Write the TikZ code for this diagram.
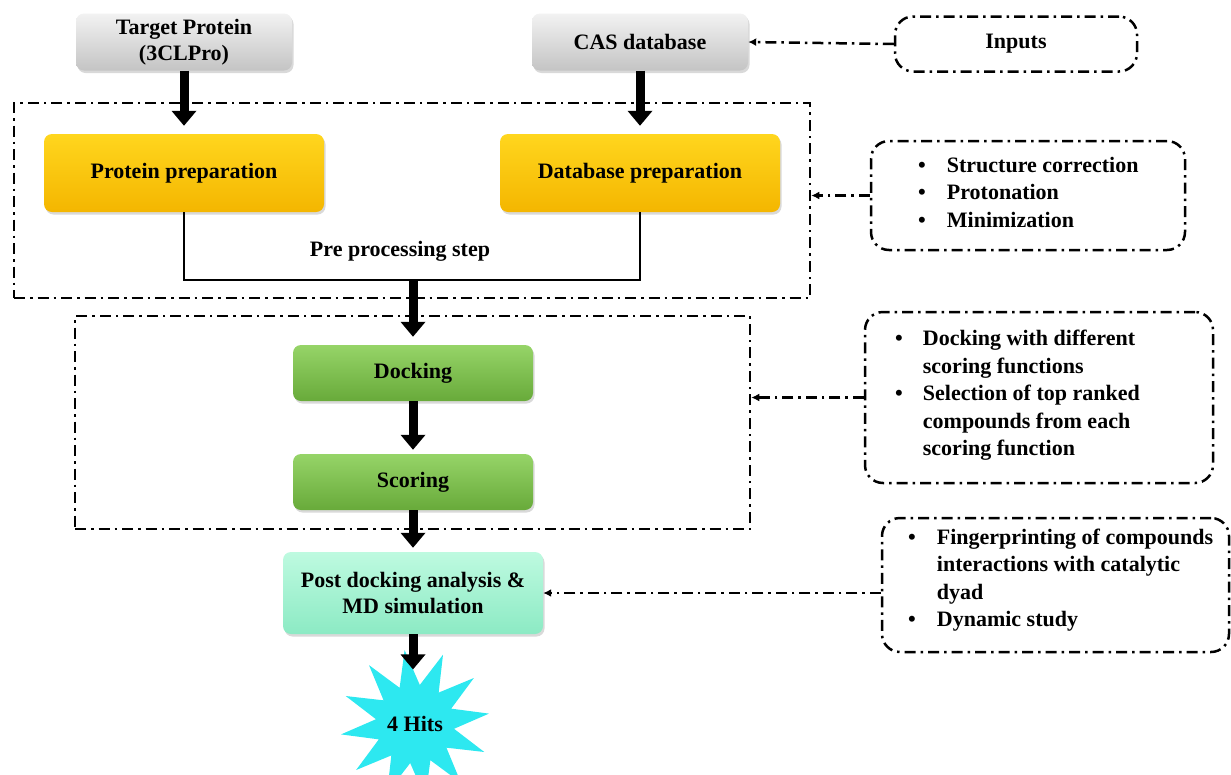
\documentclass[tikz,border=0pt]{standalone}
\usepackage{fontspec}
\setmainfont{Liberation Serif}
\usetikzlibrary{arrows.meta,shapes.geometric,shadows}

\definecolor{greytop}{RGB}{242,242,242}
\definecolor{greybot}{RGB}{196,196,196}
\definecolor{yellowtop}{RGB}{255,214,30}
\definecolor{yellowbot}{RGB}{244,182,0}
\definecolor{greentop}{RGB}{150,212,104}
\definecolor{greenbot}{RGB}{104,170,58}
\definecolor{minttop}{RGB}{190,250,224}
\definecolor{mintbot}{RGB}{140,234,196}
\definecolor{starcyan}{RGB}{45,232,240}

\tikzset{
  box/.style={rounded corners=8pt, align=center, font=\bfseries\fontsize{22}{26}\selectfont,
    drop shadow={opacity=.3, shadow xshift=1.5pt, shadow yshift=-2.5pt}},
  greybox/.style={box, top color=greytop, bottom color=greybot},
  yellowbox/.style={box, top color=yellowtop, bottom color=yellowbot},
  greenbox/.style={box, top color=greentop, bottom color=greenbot},
  mintbox/.style={box, top color=minttop, bottom color=mintbot},
  dashdot/.style={line width=2.5pt, dash pattern=on 11pt off 5pt on 2.5pt off 5pt},
  frame/.style={draw, dashdot},
  note/.style={draw, dashdot, rounded corners=18pt, font=\bfseries\fontsize{22}{26}\selectfont},
  listtext/.style={anchor=west, inner sep=0pt, font=\bfseries\fontsize{22}{27.5}\selectfont},
  bigarrow/.style={line width=9pt, -{Triangle[length=15pt,width=24pt]}},
  dasharrow/.style={dashdot, -{Latex[length=8pt,width=8pt]}},
}

\begin{document}
\begin{tikzpicture}[x=1pt,y=-1pt]
   \useasboundingbox (0,0) rectangle (1231,774);

   % inputs
   \node[greybox, minimum width=216, minimum height=57] (tp) at (184,42) {Target Protein\\(3CLPro)};
   \node[greybox, minimum width=216, minimum height=57] (cas) at (640,42) {CAS database};
   \node[note, minimum width=242, minimum height=55] (inp) at (1016,44) {Inputs};

   % pre processing
   \node[frame, minimum width=796, minimum height=195] (pre) at (412,200.5) {};
   \node[yellowbox, minimum width=280, minimum height=78] (pp) at (184,173) {Protein preparation};
   \node[yellowbox, minimum width=280, minimum height=78] (dp) at (640,173) {Database preparation};
   \node[font=\bfseries\fontsize{22}{26}\selectfont] (step) at (400,251) {Pre processing step};
   \coordinate (jn) at (640,280);
   \coordinate (mid) at (413,280);
   \node[note, minimum width=314, minimum height=109] (bul1) at (1028,195.5) {};
   \node[listtext] (bul1txt) at (918,194) {\begin{tabular}{@{}l@{\hspace{21pt}}l@{}}
      \textbullet & Structure correction\\
      \textbullet & Protonation\\
      \textbullet & Minimization
   \end{tabular}};

   % docking
   \node[frame, minimum width=675, minimum height=213] (dockframe) at (412.5,422.5) {};
   \node[greenbox, minimum width=240, minimum height=56] (dock) at (413,373) {Docking};
   \node[greenbox, minimum width=240, minimum height=56] (score) at (413,482) {Scoring};
   \node[note, minimum width=348, minimum height=171] (bul2) at (1039,397.5) {};
   \node[listtext] (bul2txt) at (895,395) {\begin{tabular}{@{}l@{\hspace{20pt}}l@{}}
      \textbullet & Docking with different\\
                  & scoring functions\\
      \textbullet & Selection of top ranked\\
                  & compounds from each\\
                  & scoring function
   \end{tabular}};

   % post docking
   \node[mintbox, minimum width=260, minimum height=82] (post) at (413,593) {Post docking analysis \&\\MD simulation};
   \node[note, minimum width=347, minimum height=134] (bul3) at (1055.5,585) {};
   \node[listtext] (bul3txt) at (908,580) {\begin{tabular}{@{}l@{\hspace{21pt}}l@{}}
      \textbullet & Fingerprinting of compounds\\
                  & interactions with catalytic\\
                  & dyad\\
      \textbullet & Dynamic study
   \end{tabular}};

   \node[star, star points=12, star point ratio=1.9, shape border rotate=8, fill=starcyan,
         minimum size=136, inner sep=0pt, font=\bfseries\fontsize{22}{26}\selectfont] (hits) at (415,724) {4 Hits};

   \draw[line width=1.8pt] (pp.south) |- (jn) -- (dp.south);

   \path (tp.south) edge[bigarrow, shorten >=8pt] (pp.north);
   \path (cas.south) edge[bigarrow, shorten >=8pt] (dp.north);
   \path (mid) edge[bigarrow, shorten >=8pt] (dock.north);
   \path (dock.south) edge[bigarrow, shorten >=4pt] (score.north);
   \path (score.south) edge[bigarrow, shorten >=4pt] (post.north);
   \path (post.south) edge[bigarrow, shorten >=4pt] (post.south |- hits.north);

   \path (inp.west) edge[dasharrow] (cas.east);
   \path (bul1.west) edge[dasharrow] (bul1.west -| pre.east);
   \path (bul2.west) edge[dasharrow] (bul2.west -| dockframe.east);
   \path (post.east -| bul3.west) edge[dasharrow] (post.east);

\end{tikzpicture}
\end{document}
